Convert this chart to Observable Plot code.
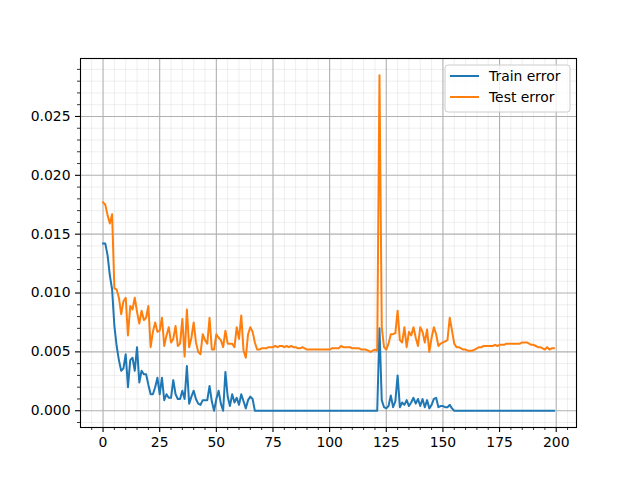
<!DOCTYPE html>
<html>
<head>
<meta charset="utf-8">
<script src="https://cdn.jsdelivr.net/npm/d3@7"></script>
<script src="https://cdn.jsdelivr.net/npm/@observablehq/plot@0.6"></script>
<style>
  html, body { margin: 0; padding: 0; background: #fff; }
</style>
</head>
<body>
<div id="chart"></div>
<script>
const seriesNames = ["Train error", "Test error"];
const seriesColors = ["#1f77b4", "#ff7f0e"];

const trainError = [
  0.0142, 0.0142, 0.0132, 0.0115, 0.0103, 0.0072, 0.0055, 0.0043, 0.0034, 0.0036,
  0.0048, 0.0020, 0.0043, 0.0045, 0.0034, 0.0054, 0.0024, 0.0034, 0.0031, 0.0031,
  0.0022, 0.0014, 0.0014, 0.0020, 0.0028, 0.0014, 0.0028, 0.0009, 0.0014, 0.0011,
  0.0011, 0.0026, 0.0014, 0.0010, 0.0010, 0.0017, 0.0010, 0.0038, 0.0006, 0.0012,
  0.0017, 0.0010, 0.0006, 0.0005, 0.0009, 0.0009, 0.0009, 0.0021, 0.0008, 0.0000,
  0.0010, 0.0017, 0.0006, 0.0000, 0.0033, 0.0012, 0.0004, 0.0014, 0.0007, 0.0011,
  0.0005, 0.0014, 0.0008, 0.0002, 0.0009, 0.0012, 0.0010, 0.0000, 0, 0,
  0, 0, 0, 0, 0, 0, 0, 0, 0, 0,
  0, 0, 0, 0, 0, 0, 0, 0, 0, 0,
  0, 0, 0, 0, 0, 0, 0, 0, 0, 0,
  0, 0, 0, 0, 0, 0, 0, 0, 0, 0,
  0, 0, 0, 0, 0, 0, 0, 0, 0, 0,
  0, 0, 0.0070, 0.0009, 0.0003, 0.0002, 0.0004, 0.0013, 0.0003, 0.0008,
  0.0030, 0.0003, 0.0007, 0.0005, 0.0009, 0.0004, 0.0007, 0.0011, 0.0006, 0.0010,
  0.0004, 0.0010, 0.0003, 0.0009, 0.0002, 0.0005, 0.0010, 0.0011, 0.0003, 0.0004,
  0.0004, 0.0003, 0.0003, 0.0005, 0.0002, 0.0000, 0, 0, 0, 0,
  0, 0, 0, 0, 0, 0, 0, 0, 0, 0,
  0, 0, 0, 0, 0, 0, 0, 0, 0, 0,
  0, 0, 0, 0, 0, 0, 0, 0, 0, 0,
  0, 0, 0, 0, 0, 0, 0, 0, 0, 0
];

const testError = [
  0.0177, 0.0175, 0.0166, 0.0159, 0.0167, 0.0104, 0.0103, 0.0096, 0.0082, 0.0093,
  0.0096, 0.0064, 0.0089, 0.0086, 0.0096, 0.0084, 0.0074, 0.0085, 0.0077, 0.0079,
  0.0089, 0.0054, 0.0067, 0.0075, 0.0067, 0.0068, 0.0079, 0.0055, 0.0064, 0.0071,
  0.0058, 0.0061, 0.0072, 0.0055, 0.0057, 0.0078, 0.0046, 0.0086, 0.0054, 0.0062,
  0.0075, 0.0058, 0.0050, 0.0048, 0.0065, 0.0060, 0.0057, 0.0079, 0.0052, 0.0052,
  0.0065, 0.0062, 0.0060, 0.0054, 0.0068, 0.0057, 0.0057, 0.0057, 0.0054, 0.0071,
  0.0061, 0.0081, 0.0051, 0.0045, 0.0065, 0.0071, 0.0067, 0.0058, 0.0052, 0.0052,
  0.0053, 0.0053, 0.0053, 0.0054, 0.0054, 0.0054, 0.0055, 0.0054, 0.0055, 0.0055,
  0.0054, 0.0055, 0.0054, 0.0055, 0.0054, 0.0054, 0.0053, 0.0053, 0.0054, 0.0053,
  0.0052, 0.0052, 0.0052, 0.0052, 0.0052, 0.0052, 0.0052, 0.0052, 0.0052, 0.0052,
  0.0052, 0.0053, 0.0053, 0.0053, 0.0053, 0.0055, 0.0054, 0.0054, 0.0054, 0.0054,
  0.0053, 0.0053, 0.0053, 0.0053, 0.0052, 0.0052, 0.0052, 0.0051, 0.0050, 0.0051,
  0.0052, 0.0051, 0.0285, 0.0071, 0.0054, 0.0052, 0.0057, 0.0065, 0.0065, 0.0066,
  0.0085, 0.0060, 0.0058, 0.0071, 0.0054, 0.0067, 0.0064, 0.0071, 0.0062, 0.0055,
  0.0071, 0.0067, 0.0058, 0.0069, 0.0050, 0.0062, 0.0071, 0.0065, 0.0055, 0.0057,
  0.0058, 0.0059, 0.0060, 0.0079, 0.0068, 0.0057, 0.0054, 0.0054, 0.0053, 0.0052,
  0.0052, 0.0051, 0.0051, 0.0051, 0.0052, 0.0053, 0.0054, 0.0054, 0.0055, 0.0055,
  0.0055, 0.0055, 0.0055, 0.0056, 0.0055, 0.0056, 0.0056, 0.0056, 0.0057, 0.0057,
  0.0057, 0.0057, 0.0057, 0.0057, 0.0057, 0.0058, 0.0058, 0.0058, 0.0057, 0.0056,
  0.0056, 0.0055, 0.0054, 0.0054, 0.0053, 0.0052, 0.0054, 0.0052, 0.0053, 0.0053
];

const xTicks = [0, 25, 50, 75, 100, 125, 150, 175, 200];
const yTicks = [0.000, 0.005, 0.010, 0.015, 0.020, 0.025];
const xMinorTicks = d3.range(-5, 210, 5).filter(v => v % 25 !== 0);
const yMinorTicks = d3.range(-1, 30, 1).map(v => v / 1000).filter((v, i) => (i - 1) % 5 !== 0);

const rows = [];
[trainError, testError].forEach((arr, s) => {
  arr.forEach((v, i) => rows.push({epoch: i, value: v, series: seriesNames[s]}));
});

const legendMark = (index, scales, values, dim) => {
  const g = d3.create("svg:g");
  const right = dim.width - dim.marginRight;
  const top = dim.marginTop;
  const bx = right - 131, by = top + 7, bw = 125, bh = 47;
  g.append("rect")
    .attr("x", bx).attr("y", by).attr("width", bw).attr("height", bh)
    .attr("rx", 3).attr("ry", 3)
    .attr("fill", "rgba(255,255,255,0.8)")
    .attr("stroke", "#cccccc").attr("stroke-width", 1);
  seriesNames.forEach((name, i) => {
    const yy = by + 11 + i * 21;
    g.append("line")
      .attr("x1", bx + 5).attr("x2", bx + 34)
      .attr("y1", yy).attr("y2", yy)
      .attr("stroke", seriesColors[i]).attr("stroke-width", 2);
    g.append("text")
      .attr("x", bx + 44).attr("y", yy + 5)
      .attr("fill", "#000")
      .attr("text-anchor", "start")
      .attr("font-size", "13.9px")
      .text(name);
  });
  return g.node();
};

const chart = Plot.plot({
  width: 640,
  height: 480,
  marginLeft: 80,
  marginRight: 64,
  marginTop: 58,
  marginBottom: 53,
  style: {fontFamily: "DejaVu Sans", fontSize: "13.9px", background: "#fff", color: "#000"},
  x: {domain: [-9.95, 208.95]},
  y: {domain: [-0.001425, 0.029925]},
  color: {domain: seriesNames, range: seriesColors},
  marks: [
    Plot.gridX(xMinorTicks, {stroke: "#b0b0b0", strokeOpacity: 0.3, strokeWidth: 0.7}),
    Plot.gridY(yMinorTicks, {stroke: "#b0b0b0", strokeOpacity: 0.3, strokeWidth: 0.7}),
    Plot.gridX(xTicks, {stroke: "#b0b0b0", strokeOpacity: 1, strokeWidth: 1.1}),
    Plot.gridY(yTicks, {stroke: "#b0b0b0", strokeOpacity: 1, strokeWidth: 1.1}),
    Plot.axisX(xTicks, {tickSize: 5, tickPadding: 5, label: null, tickFormat: d => String(d), strokeWidth: 1.1}),
    Plot.axisX(xMinorTicks, {tickSize: 3, text: null, label: null, strokeWidth: 0.8}),
    Plot.axisY(yTicks, {tickSize: 5, tickPadding: 5, label: null, tickFormat: d3.format(".3f"), strokeWidth: 1.1}),
    Plot.axisY(yMinorTicks, {tickSize: 3, text: null, label: null, strokeWidth: 0.8}),
    Plot.line(rows, {x: "epoch", y: "value", z: "series", stroke: "series", strokeWidth: 2, strokeLinejoin: "round", strokeLinecap: "square"}),
    Plot.frame({stroke: "#000", strokeWidth: 1.1}),
    legendMark
  ]
});
document.getElementById("chart").appendChild(chart);
</script>
</body>
</html>
